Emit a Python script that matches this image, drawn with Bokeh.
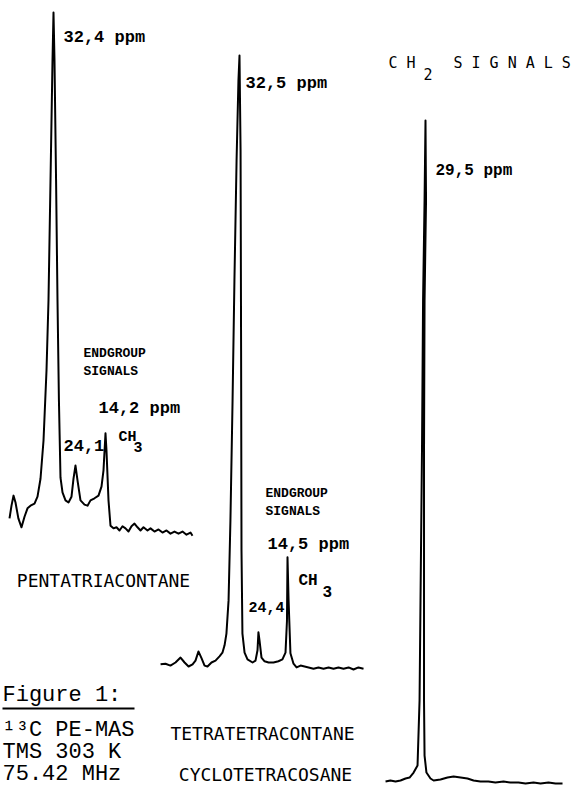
from bokeh.plotting import figure
from bokeh.models import Range1d
from bokeh.core.properties import value
from bokeh.embed import file_html
from bokeh.resources import INLINE

# ---------------- data: 13C spectra (chemical shift in ppm, relative intensity) ----------------
penta_ppm = [47.8, 47.1, 46.4, 45.7, 44.7, 43.6, 42.55, 41.5, 40.45, 39.05, 38.0, 36.95, 35.9, 34.85,
             34.15, 33.45, 32.75, 32.4, 32.05, 31.5, 31.0, 30.5, 29.95, 29.25, 28.2, 27.15, 26.1, 25.4,
             24.7, 24.0, 22.95, 21.55, 20.5, 19.45, 18.05, 16.65, 15.6, 14.9, 14.2, 13.85, 13.15, 12.45,
             11.4, 10.35, 9.3, 8.25, 7.2, 6.15, 5.1, 4.05, 3.0, 1.95, 0.9, -0.5, -1.55, -2.95, -4.35,
             -5.75, -7.15, -8.55, -9.95, -11.35, -12.75, -14.15, -15.55, -16.25]
penta_int = [4.2, 6.6, 8.5, 7.2, 4.2, 2.5, 4.5, 6.1, 6.6, 7.0, 8.3, 11.7, 18.9, 32.2,
             45.5, 68.2, 90.9, 100, 90.9, 68.2, 45.5, 26.5, 11.9, 9.1, 7.6, 7.2, 8.3, 11.7,
             14.2, 11.4, 7.6, 6.8, 6.6, 7.6, 8.0, 8.5, 10.2, 13.3, 20.3, 17.0, 7.6, 2.8,
             2.3, 2.5, 1.9, 2.7, 2.3, 1.7, 2.7, 3.2, 2.5, 1.9, 2.5, 1.9, 2.3, 1.7, 2.1,
             1.5, 1.9, 1.3, 1.7, 1.3, 1.7, 1.1, 1.5, 0.9]

tetra_ppm = [62.1, 60.25, 58.4, 56.5, 54.6, 53.1, 51.6, 50.1, 49.0, 47.9, 46.75, 45.6, 44.5, 43.0,
             41.5, 40.0, 38.9, 38.1, 37.4, 36.6, 35.9, 35.1, 34.4, 33.6, 32.9, 32.5, 32.1, 31.9,
             31.75, 31.4, 30.6, 29.5, 27.6, 26.5, 25.75, 25.4, 25.0, 24.25, 23.1, 21.6, 19.75, 17.9,
             16.4, 15.25, 14.7, 14.5, 14.1, 13.4, 12.25, 11.1, 9.6, 8.1, 6.6, 4.75, 2.9, 1.0, -0.9,
             -2.75, -4.6, -6.5, -8.4, -10.25, -12.1, -14.0]
tetra_int = [1.0, 1.1, 0.8, 1.3, 2.1, 1.3, 0.65, 1.0, 1.6, 3.1, 2.0, 0.8, 0.65, 1.3,
             1.6, 2.3, 2.9, 4.1, 6.0, 11.4, 24.4, 43.9, 63.4, 82.9, 95.9, 100, 84.6, 52.0,
             19.5, 6.0, 2.9, 1.8, 1.3, 1.6, 3.3, 6.2, 4.9, 2.1, 1.5, 1.3, 1.3, 1.5,
             1.8, 2.9, 8.1, 18.4, 11.4, 2.8, 1.1, 0.5, 0.8, 0.65, 0.5, 0.3, 0.5, 0.3, 0.5,
             0.3, 0.5, 0.3, 0.5, 0.16, 0.5, 0.3]

cyclo_ppm = [44.3, 42.5, 40.6, 38.75, 36.9, 35.4, 33.9, 32.45, 31.7, 31.35, 30.8, 30.4, 29.85, 29.5,
             29.3, 29.85, 30.05, 30.05, 30.05, 29.85, 29.15, 27.65, 26.5, 23.95, 21.35, 19.1, 16.5,
             13.95, 11.7, 9.15, 6.2, 3.6, 0.6, -2.0, -4.95, -7.55, -10.5, -13.1, -16.05, -18.65, -21.25]
cyclo_int = [0.6, 0.75, 0.6, 0.75, 1.05, 1.2, 1.95, 3.0, 12.8, 27.8, 50.4, 72.9, 88.0, 100,
             88.0, 72.9, 50.4, 27.8, 12.8, 4.5, 1.95, 1.05, 0.75, 0.9, 1.2, 1.35, 1.2,
             1.05, 0.75, 0.6, 0.6, 0.45, 0.6, 0.45, 0.45, 0.3, 0.45, 0.3, 0.45, 0.3, 0.3]

# labelled peaks (ppm) and texts
penta_peaks = [32.4, 24.1, 14.2]
tetra_peaks = [32.5, 24.4, 14.5]
cyclo_peaks = [29.5]
compound_names = ["PENTATRIACONTANE", "TETRATETRACONTANE", "CYCLOTETRACOSANE"]
caption_lines = ["Figure  1:", "\u00b9\u00b3C PE-MAS", "TMS 303 K", "75.42 MHz"]

# ---------------- layout ----------------
W, H = 575, 786

# per trace: (ppm at anchor, page x of anchor, px per ppm, page y of zero intensity, px per unit)
layout = {
    "penta": (32.4, 53, 2.857, 540, 5.28),
    "tetra": (32.5, 239, 2.667, 670, 6.15),
    "cyclo": (29.5, 425, 2.70, 785, 6.65),
}

p = figure(width=W, height=H, output_backend="svg", toolbar_location=None,
           x_range=Range1d(0, W), y_range=Range1d(H, 0),
           x_axis_type=None, y_axis_type=None, min_border=0)
p.grid.visible = False
p.outline_line_color = None
p.background_fill_color = "white"
p.border_fill_color = "white"

for name, (rp, rx, kx, by, ky) in layout.items():
    p.extra_x_ranges[name] = Range1d(rp + rx / kx, rp - (W - rx) / kx)
    p.extra_y_ranges[name] = Range1d((by - H) / ky, by / ky)

series = {
    "penta": (penta_ppm, penta_int, penta_peaks),
    "tetra": (tetra_ppm, tetra_int, tetra_peaks),
    "cyclo": (cyclo_ppm, cyclo_int, cyclo_peaks),
}


def peak_point(name, ppm):
    xs, ys, _ = series[name]
    cand = [i for i, v in enumerate(xs) if abs(v - ppm) <= 1.2]
    i = max(cand, key=lambda j: ys[j])
    return xs[i], ys[i]


MONO = "Liberation Mono"
SANS = "DejaVu Sans Mono"


def label(name, x, y, text, dx, dy, font=MONO, size=17, style="bold", align="left"):
    p.text(x=[x], y=[y], text=[text], x_offset=dx, y_offset=dy,
           text_font=value(font), text_font_size=f"{size}px", text_font_style=style,
           text_align=align, text_baseline="middle", text_color="black",
           x_range_name=name, y_range_name=name)


def fmt(v):
    return f"{v:.1f}".replace(".", ",")

# ---- pentatriacontane labels ----
x, y = peak_point("penta", penta_peaks[0])
label("penta", x, y, fmt(penta_peaks[0]) + " ppm", 10, 25)
x, y = peak_point("penta", penta_peaks[1])
label("penta", x, y, fmt(penta_peaks[1]), -12, -20)
x, y = peak_point("penta", penta_peaks[2])
label("penta", x, y, fmt(penta_peaks[2]) + " ppm", -7, -25)
label("penta", x, y, "CH", 13, 4, size=15)
label("penta", x, y, "3", 28, 14, size=15)
label("penta", x, y, "ENDGROUP", -22, -80, size=13)
label("penta", x, y, "SIGNALS", -22, -62, size=13)
label("penta", penta_peaks[2], 0, compound_names[0], -2, 40, font=SANS, size=18,
      style="normal", align="center")

# ---- tetratetracontane labels ----
x, y = peak_point("tetra", tetra_peaks[0])
label("tetra", x, y, fmt(tetra_peaks[0]) + " ppm", 6, 28)
label("tetra", tetra_peaks[0], 0, compound_names[1], 23, 63, font=SANS, size=18,
      style="normal", align="center")
x, y = peak_point("tetra", tetra_peaks[1])
label("tetra", x, y, fmt(tetra_peaks[1]), -10, -25, size=15)
x, y = peak_point("tetra", tetra_peaks[2])
label("tetra", x, y, fmt(tetra_peaks[2]) + " ppm", -20, -13)
label("tetra", x, y, "CH", 11, 24, size=16)
label("tetra", x, y, "3", 35, 34, size=16)
label("tetra", x, y, "ENDGROUP", -22, -64, size=13)
label("tetra", x, y, "SIGNALS", -22, -46, size=13)

# ---- cyclotetracosane labels ----
x, y = peak_point("cyclo", cyclo_peaks[0])
label("cyclo", x, y, fmt(cyclo_peaks[0]) + " ppm", 10, 50, size=16)
label("cyclo", x, y, "C H", -37, -58, font=SANS, size=15, style="normal")
label("cyclo", x, y, "2", -2, -47, font=SANS, size=15, style="normal")
label("cyclo", x, y, "S I G N A L S", 28, -58, font=SANS, size=15, style="normal")
label("cyclo", cyclo_peaks[0], 0, compound_names[2], -160, -11, font=SANS, size=18,
      style="normal", align="center")

# ---- traces (drawn after labels so peaks pass over the text) ----
for name, (xs, ys, _) in series.items():
    p.line(x=xs, y=ys, line_color="black", line_width=2, line_join="round",
           x_range_name=name, y_range_name=name)

# ---- figure caption (page coordinates) ----
cap_y = [695, 730, 752, 774]
for t, cy in zip(caption_lines, cap_y):
    p.text(x=[2], y=[cy], text=[t], text_font=value(MONO), text_font_size="22px",
           text_align="left", text_baseline="middle", text_color="black")
p.line(x=[2, 134], y=[708, 708], line_color="black", line_width=2)

open("out.html", "w").write(file_html(p, INLINE))
